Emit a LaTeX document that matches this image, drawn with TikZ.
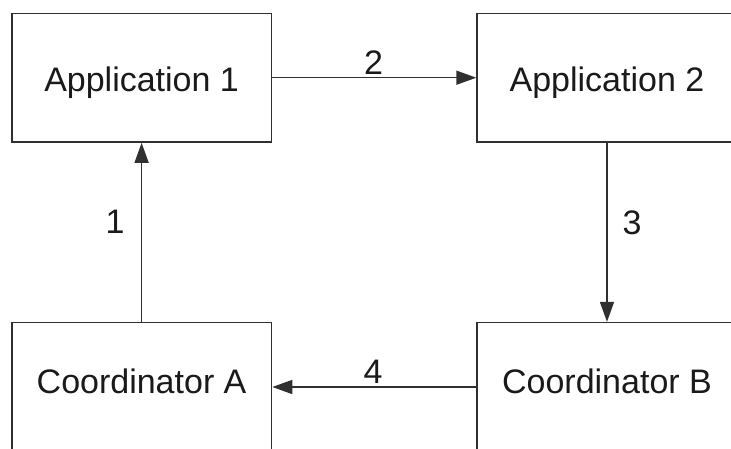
\documentclass[tikz,border=0pt]{standalone}
\usepackage{fontspec}
\setmainfont{Liberation Sans}
\usetikzlibrary{arrows.meta}
\definecolor{lineclr}{HTML}{303030}
\definecolor{txtclr}{HTML}{1A1A1A}
\tikzset{
  box/.style={draw=lineclr, line width=1.6pt, minimum width=259.8pt, minimum height=128.7pt, inner sep=0pt, text=txtclr, text depth=0pt, font=\fontsize{34}{40}\selectfont},
  appbox/.style={box, text height=28pt},
  coordbox/.style={box, text height=12.6pt},
  conn/.style={draw=lineclr, line width=1.6pt, -{Triangle[length=20pt,width=14pt]}},
  lbl/.style={text=txtclr, inner sep=0pt, font=\fontsize{34}{40}\selectfont}
}
\begin{document}
\begin{tikzpicture}[x=1pt,y=1pt]
\useasboundingbox (0,-449) rectangle (731,0);
\fill[white] (0,-449) rectangle (731,0);
\clip (0,-449) rectangle (731,0);
\node[appbox] (a1) at (141.6,-77.7) {Application 1};
\node[appbox] (a2) at (607,-77.7) {Application 2};
\node[coordbox] (ca) at (141.6,-387) {Coordinator A};
\node[coordbox] (cb) at (607,-387) {Coordinator B};
\draw[conn] (ca.north) -- (a1.south);
\draw[conn] (a1.east) -- (a2.west);
\draw[conn] (a2.south) -- (cb.north);
\draw[conn] (cb.west) -- (ca.east);
\node[lbl] (l1) at (115,-222) {1};
\node[lbl] (l2) at (373.7,-63) {2};
\node[lbl] (l3) at (632,-223) {3};
\node[lbl] (l4) at (373,-372) {4};
\end{tikzpicture}
\end{document}
